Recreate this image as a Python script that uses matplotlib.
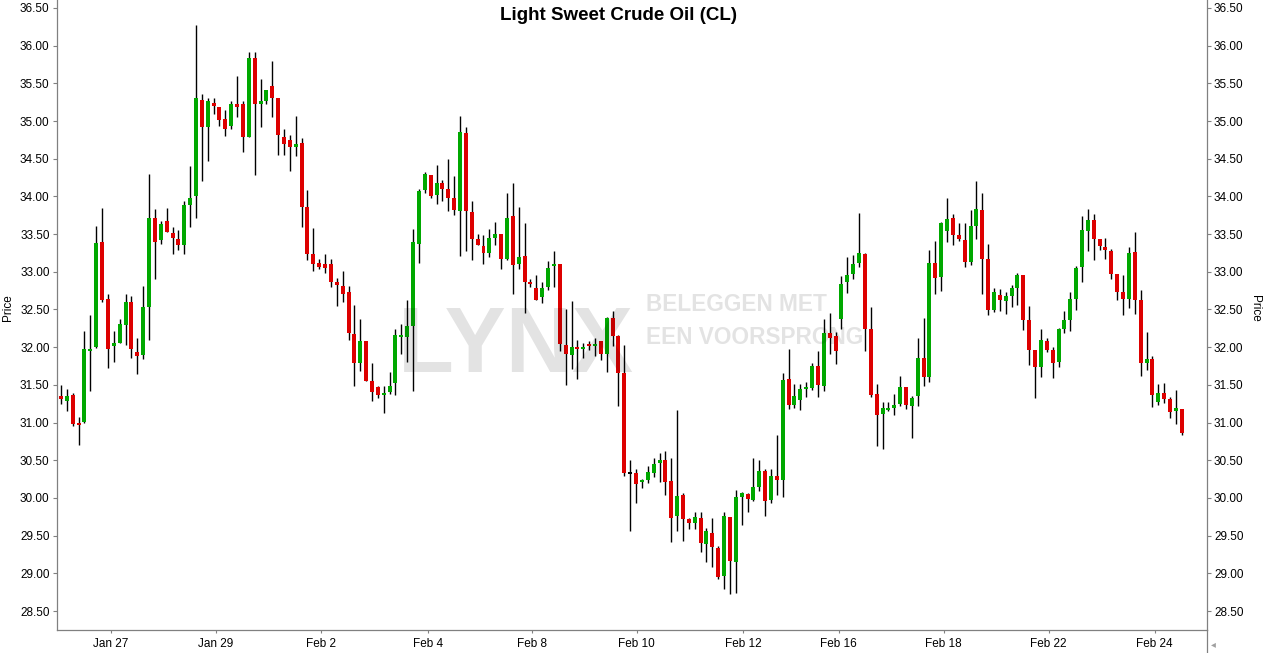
"""
Light Sweet Crude Oil (CL) candlestick chart, re-drawn with matplotlib.
"""

import matplotlib
matplotlib.use("Agg")
import matplotlib.pyplot as plt
from matplotlib.lines import Line2D
import numpy as np

plt.rcParams["font.family"] = ["Liberation Sans", "DejaVu Sans"]

TITLE = "Light Sweet Crude Oil (CL)"

# OHLC per bar (bar index 0 = first bar on the left)
opens = [
    31.35, 31.29, 31.36, 31.00, 31.01, 31.95, 32.00, 33.40, 32.64, 32.01, 32.06, 32.29,
    32.60, 31.94, 31.89, 32.53, 33.71, 33.42, 33.67, 33.52, 33.44, 33.36, 33.88, 34.00,
    35.28, 34.92, 35.24, 35.19, 35.03, 34.93, 35.22, 35.23, 34.79, 35.84, 35.23, 35.27,
    35.46, 35.30, 34.79, 34.75, 34.65, 34.71, 33.86, 33.24, 33.12, 33.10, 33.10, 32.86,
    32.81, 32.73, 32.17, 31.79, 32.08, 31.55, 31.47, 31.36, 31.40, 31.52, 32.13, 32.13,
    32.28, 33.37, 34.08, 34.28, 34.02, 34.18, 34.10, 33.98, 33.81, 34.84, 33.79, 33.44,
    33.34, 33.25, 33.45, 33.50, 33.17, 33.74, 33.11, 33.21, 32.87, 32.79, 32.67, 32.80,
    33.08, 33.10, 32.03, 31.89, 32.00, 31.97, 32.04, 32.02, 32.08, 31.91, 32.39, 32.15,
    31.66, 30.32, 30.33, 30.21, 30.24, 30.33, 30.46, 30.50, 30.22, 29.76, 30.04, 29.72,
    29.67, 29.73, 29.39, 29.53, 29.34, 28.96, 29.75, 29.15, 30.01, 30.05, 29.97, 30.15,
    30.36, 29.97, 30.29, 30.24, 31.58, 31.23, 31.30, 31.44, 31.46, 31.75, 31.48, 32.19,
    32.15, 32.37, 32.86, 32.97, 33.12, 33.24, 32.24, 31.38, 31.11, 31.17, 31.19, 31.25,
    31.47, 31.22, 31.35, 31.85, 31.60, 33.12, 32.93, 33.54, 33.71, 33.49, 33.42, 33.13,
    33.61, 33.82, 33.17, 32.49, 32.69, 32.61, 32.68, 32.78, 32.96, 32.36, 31.96, 31.74,
    32.08, 31.96, 31.80, 32.24, 32.36, 32.64, 33.06, 33.54, 33.69, 33.43, 33.33, 33.28,
    32.97, 32.73, 32.64, 33.26, 32.63, 31.79, 31.84, 31.27, 31.39, 31.31, 31.15, 31.18,
]
highs = [
    31.50, 31.44, 31.39, 31.08, 32.21, 32.43, 33.61, 33.84, 32.70, 32.21, 32.37, 32.70,
    32.68, 32.12, 32.81, 34.30, 33.83, 33.68, 33.84, 33.59, 33.56, 33.94, 34.40, 36.28,
    35.36, 35.30, 35.31, 35.19, 35.15, 35.27, 35.60, 35.27, 35.92, 35.91, 35.56, 35.41,
    35.80, 35.30, 34.89, 34.81, 35.07, 34.77, 34.08, 33.58, 33.17, 33.24, 33.17, 32.92,
    33.01, 32.81, 32.56, 32.37, 32.08, 31.79, 31.49, 31.49, 31.67, 32.24, 32.31, 32.63,
    33.57, 34.10, 34.32, 34.28, 34.42, 34.22, 34.50, 34.27, 35.07, 34.92, 33.94, 33.50,
    33.49, 33.57, 33.66, 33.50, 34.04, 34.18, 33.86, 33.65, 32.90, 32.96, 32.86, 33.14,
    33.28, 33.10, 32.51, 32.61, 32.09, 32.05, 32.08, 32.12, 32.08, 32.40, 32.48, 32.16,
    32.03, 30.50, 30.38, 30.25, 30.42, 30.53, 30.60, 30.62, 30.53, 31.17, 30.07, 29.73,
    29.81, 29.81, 29.60, 29.73, 29.36, 29.81, 29.75, 30.10, 30.08, 30.07, 30.53, 30.50,
    30.38, 30.38, 30.83, 31.66, 31.98, 31.51, 31.51, 31.54, 31.79, 31.95, 32.37, 32.45,
    32.20, 32.94, 33.20, 33.22, 33.78, 33.25, 32.53, 31.51, 31.27, 31.27, 31.38, 31.62,
    31.47, 31.35, 32.12, 32.39, 33.29, 33.41, 33.66, 33.98, 33.77, 33.65, 33.65, 33.82,
    34.20, 34.05, 33.37, 32.78, 32.77, 32.73, 32.82, 32.98, 32.96, 32.55, 31.96, 32.24,
    32.12, 32.00, 32.25, 32.48, 32.73, 33.08, 33.74, 33.83, 33.77, 33.43, 33.45, 33.30,
    32.97, 32.96, 33.33, 33.53, 32.76, 32.20, 31.88, 31.51, 31.52, 31.34, 31.43, 31.18,
]
lows = [
    31.24, 31.16, 30.96, 30.70, 30.99, 31.42, 31.99, 32.60, 31.73, 31.80, 32.06, 32.03,
    31.85, 31.64, 31.84, 32.10, 32.91, 33.37, 33.53, 33.24, 33.29, 33.23, 33.59, 33.72,
    34.20, 34.47, 35.10, 34.93, 34.80, 34.89, 35.06, 34.59, 34.79, 34.28, 34.92, 35.22,
    35.05, 34.55, 34.55, 34.34, 34.53, 33.60, 33.16, 33.01, 33.04, 32.99, 32.80, 32.54,
    32.60, 32.09, 31.49, 31.68, 31.55, 31.29, 31.33, 31.13, 31.38, 31.36, 31.91, 31.81,
    31.42, 33.12, 34.05, 33.98, 33.90, 33.94, 33.81, 33.75, 33.21, 33.27, 33.16, 33.35,
    33.11, 33.20, 33.36, 33.04, 33.16, 32.71, 33.04, 32.46, 32.80, 32.62, 32.58, 32.76,
    32.80, 31.95, 31.50, 31.71, 31.58, 31.86, 31.96, 31.88, 31.83, 31.67, 32.02, 31.22,
    30.29, 29.56, 29.93, 30.13, 30.20, 30.28, 30.21, 30.04, 29.42, 29.56, 29.43, 29.59,
    29.59, 29.28, 29.15, 29.08, 28.92, 28.79, 28.73, 28.74, 29.64, 29.81, 29.96, 30.09,
    29.76, 29.93, 30.04, 30.01, 31.18, 31.19, 31.17, 31.34, 31.43, 31.34, 31.42, 31.91,
    31.78, 32.24, 32.72, 32.90, 33.06, 31.95, 31.34, 30.69, 30.65, 31.16, 31.10, 31.22,
    31.18, 30.79, 31.22, 31.48, 31.54, 32.70, 32.74, 33.40, 33.36, 33.41, 33.06, 33.09,
    33.44, 32.70, 32.43, 32.47, 32.48, 32.44, 32.53, 32.56, 32.23, 31.76, 31.33, 31.60,
    31.94, 31.59, 31.74, 32.19, 32.21, 32.49, 32.86, 33.28, 33.16, 33.29, 33.17, 32.90,
    32.63, 32.43, 32.52, 32.44, 31.62, 31.70, 31.21, 31.23, 31.26, 31.06, 30.98, 30.83,
]
closes = [
    31.31, 31.35, 30.98, 30.97, 31.97, 31.98, 33.38, 32.63, 31.97, 32.06, 32.31, 32.60,
    31.97, 31.88, 32.53, 33.71, 33.40, 33.64, 33.53, 33.45, 33.36, 33.88, 33.98, 35.30,
    34.92, 35.26, 35.20, 35.02, 34.90, 35.22, 35.18, 34.79, 35.84, 35.22, 35.27, 35.41,
    35.31, 34.82, 34.70, 34.66, 34.70, 33.86, 33.24, 33.11, 33.07, 33.05, 32.87, 32.82,
    32.71, 32.19, 31.79, 32.08, 31.55, 31.41, 31.36, 31.39, 31.48, 32.16, 32.16, 32.28,
    33.40, 34.07, 34.30, 34.01, 34.18, 34.10, 33.98, 33.82, 34.85, 33.81, 33.44, 33.35,
    33.25, 33.45, 33.50, 33.17, 33.71, 33.09, 33.20, 32.87, 32.84, 32.62, 32.79, 33.05,
    33.10, 32.04, 31.91, 32.00, 31.97, 32.00, 32.02, 32.04, 31.91, 32.39, 32.15, 31.66,
    30.33, 30.32, 30.18, 30.24, 30.34, 30.45, 30.50, 30.21, 29.73, 30.03, 29.72, 29.67,
    29.75, 29.40, 29.56, 29.35, 28.95, 29.76, 29.16, 30.01, 30.07, 29.99, 30.15, 30.36,
    29.96, 30.29, 30.24, 31.56, 31.23, 31.35, 31.44, 31.47, 31.75, 31.50, 32.19, 32.12,
    31.95, 32.84, 32.96, 33.10, 33.25, 32.24, 31.37, 31.10, 31.19, 31.19, 31.23, 31.47,
    31.23, 31.33, 31.85, 31.60, 33.12, 32.92, 33.65, 33.70, 33.49, 33.44, 33.13, 33.61,
    33.83, 33.17, 32.49, 32.73, 32.63, 32.68, 32.78, 32.96, 32.36, 31.96, 31.74, 32.09,
    31.96, 31.79, 32.24, 32.36, 32.64, 33.05, 33.55, 33.69, 33.43, 33.34, 33.29, 32.97,
    32.73, 32.64, 33.25, 32.63, 31.79, 31.84, 31.37, 31.39, 31.31, 31.14, 31.19, 30.86,
]

# date axis: label and the bar index where that day starts
day_labels = ["Jan 27", "Jan 29", "Feb 2", "Feb 4", "Feb 8", "Feb 10",
              "Feb 12", "Feb 16", "Feb 18", "Feb 22", "Feb 24"]
day_start_bar = [8.5, 26.4, 44.3, 62.5, 80.3, 98.1, 116.2, 132.5, 150.4, 168.3, 186.4]

price_ticks = np.arange(28.5, 36.51, 0.5)

UP = "#00a800"
DOWN = "#dd0000"
AXIS_GREY = "#808080"
W, H = 1264, 653


def main():
    o = np.array(opens)
    h = np.array(highs)
    l = np.array(lows)
    c = np.array(closes)
    x = np.arange(len(o))

    fig = plt.figure(figsize=(W / 100, H / 100), dpi=100)
    ax = fig.add_axes([56.5 / W, 23 / H, (1207 - 56.5) / W, 630 / H])

    colors = np.where(c > o, UP, np.where(c < o, DOWN, "black"))
    body_lo = np.minimum(o, c)
    body_h = np.maximum(np.abs(c - o), 0.022)

    ax.vlines(x, l, h, color="black", linewidth=1.0, zorder=2)
    ax.bar(x, body_h, bottom=body_lo, width=0.68, color=colors, linewidth=0, zorder=3)

    ax.set_xlim(-0.77, 195.3)
    ax.set_ylim(28.248, 36.606)

    ax.set_yticks(price_ticks)
    ax.set_yticklabels([f"{v:.2f}" for v in price_ticks])
    ax.set_xticks(day_start_bar)
    ax.set_xticklabels(day_labels)
    ax.tick_params(axis="y", which="both", left=True, right=True, labelleft=True,
                   labelright=True, direction="out", length=3, width=0.8,
                   color=AXIS_GREY, labelsize=8.5, pad=2)
    ax.tick_params(axis="x", direction="out", length=2.5, width=0.8,
                   color=AXIS_GREY, labelsize=8.5, pad=3)

    ax.spines["top"].set_visible(False)
    for side in ["left", "right", "bottom"]:
        ax.spines[side].set_color(AXIS_GREY)
        ax.spines[side].set_linewidth(0.9)

    # separator under the right axis, down to the figure edge
    fig.add_artist(Line2D([1207 / W, 1207 / W], [0, 23 / H], color=AXIS_GREY,
                          linewidth=0.9, transform=fig.transFigure))
    fig.text(1213 / W, 1 - 644 / H, "\u25c2", color="#a0a0a0", fontsize=7,
             ha="center", va="center", family=["DejaVu Sans"])

    fig.text(618.5 / W, 1 - 16 / H, TITLE, fontsize=13.5, fontweight="bold",
             ha="center", va="center")
    fig.text(8 / W, 1 - 308 / H, "Price", fontsize=8.5, rotation=90,
             ha="center", va="center")
    fig.text(1255 / W, 1 - 308 / H, "Price", fontsize=8.5, rotation=270,
             ha="center", va="center")

    # watermark, drawn over the candles
    wm = dict(color="black", alpha=0.11, fontweight="bold", zorder=10)
    fig.text(516 / W, 1 - 372 / H, "LYNX", fontsize=66, ha="center",
             va="baseline", **wm)
    fig.text(646 / W, 1 - 310.7 / H, "BELEGGEN MET", fontsize=16.3, ha="left",
             va="baseline", **wm)
    fig.text(646 / W, 1 - 344 / H, "EEN VOORSPRONG", fontsize=16.3, ha="left",
             va="baseline", **wm)

    fig.savefig("out.png", dpi=100)
    plt.close(fig)


if __name__ == "__main__":
    main()
